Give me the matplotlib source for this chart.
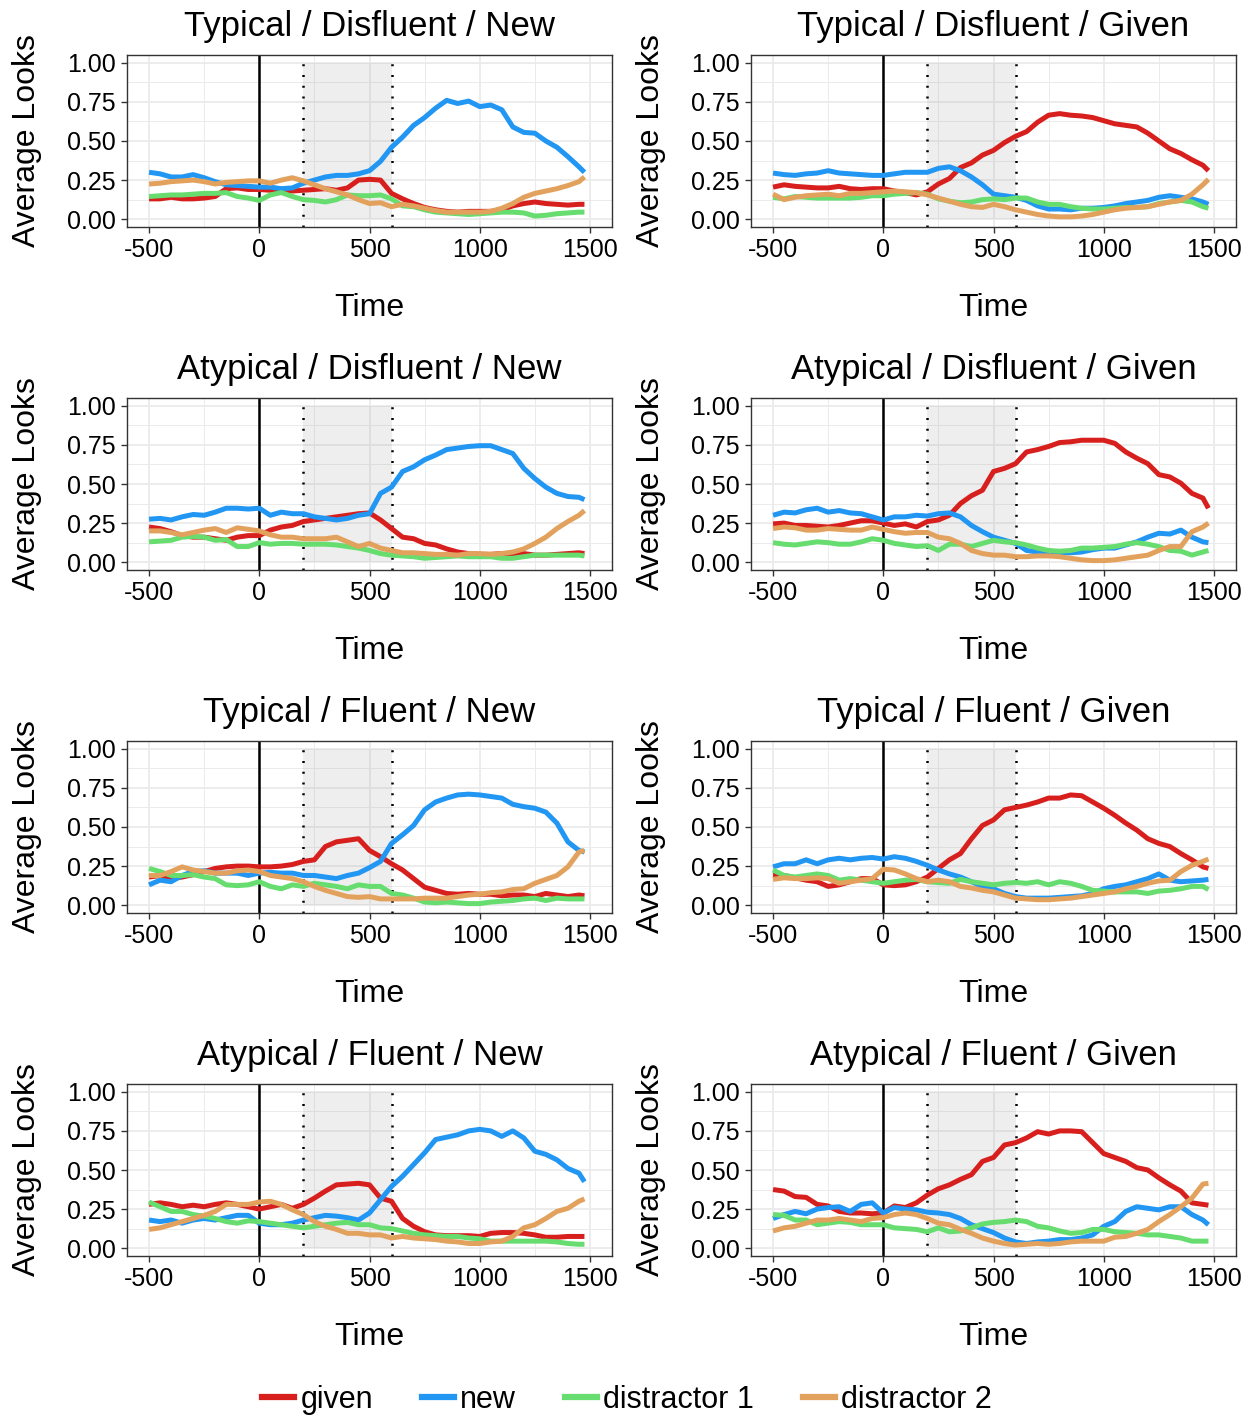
import matplotlib
matplotlib.use("Agg")
import matplotlib.pyplot as plt
from matplotlib.lines import Line2D
import numpy as np

plt.rcParams['font.family'] = ['Liberation Sans', 'DejaVu Sans']

# ---------------- data ----------------
times = list(range(-500, 1451, 50)) + [1475]

# Typical / Disfluent / New
tdn_given = [0.13,0.13,0.14,0.13,0.13,0.135,0.145,0.195,0.20,0.19,0.19,0.185,0.185,0.18,0.185,0.19,0.195,0.185,0.20,0.25,0.255,0.25,0.165,0.13,0.10,0.075,0.06,0.05,0.045,0.05,0.05,0.05,0.06,0.085,0.10,0.11,0.10,0.095,0.09,0.095,0.095]
tdn_new = [0.30,0.29,0.27,0.27,0.285,0.265,0.24,0.22,0.215,0.21,0.205,0.205,0.195,0.20,0.23,0.25,0.27,0.28,0.28,0.29,0.31,0.37,0.46,0.525,0.60,0.65,0.71,0.76,0.74,0.755,0.72,0.73,0.70,0.59,0.555,0.55,0.50,0.46,0.40,0.335,0.30]
tdn_d1 = [0.145,0.15,0.155,0.155,0.16,0.165,0.165,0.17,0.145,0.135,0.12,0.155,0.17,0.145,0.125,0.12,0.11,0.125,0.155,0.15,0.15,0.155,0.13,0.085,0.08,0.06,0.045,0.04,0.035,0.03,0.035,0.04,0.045,0.045,0.04,0.02,0.025,0.035,0.04,0.045,0.045]
tdn_d2 = [0.225,0.23,0.24,0.245,0.25,0.24,0.225,0.235,0.24,0.245,0.245,0.23,0.25,0.265,0.245,0.22,0.195,0.175,0.155,0.125,0.10,0.105,0.08,0.095,0.085,0.07,0.055,0.045,0.045,0.045,0.045,0.05,0.07,0.10,0.14,0.165,0.18,0.195,0.215,0.24,0.27]

# Typical / Disfluent / Given
tdg_given = [0.205,0.22,0.21,0.205,0.20,0.20,0.21,0.195,0.19,0.195,0.195,0.18,0.17,0.155,0.175,0.225,0.26,0.33,0.36,0.41,0.44,0.49,0.53,0.56,0.62,0.665,0.675,0.665,0.66,0.65,0.63,0.61,0.60,0.59,0.55,0.50,0.45,0.42,0.38,0.345,0.31]
tdg_new = [0.295,0.285,0.28,0.29,0.295,0.31,0.295,0.29,0.285,0.28,0.28,0.29,0.30,0.30,0.30,0.325,0.335,0.31,0.27,0.22,0.16,0.15,0.14,0.12,0.085,0.065,0.065,0.06,0.07,0.07,0.075,0.085,0.10,0.11,0.12,0.14,0.15,0.14,0.13,0.11,0.095]
tdg_d1 = [0.14,0.13,0.145,0.14,0.135,0.135,0.135,0.135,0.14,0.15,0.15,0.16,0.165,0.17,0.16,0.13,0.115,0.105,0.11,0.125,0.13,0.125,0.135,0.135,0.11,0.095,0.095,0.08,0.07,0.065,0.065,0.07,0.075,0.075,0.08,0.10,0.11,0.12,0.11,0.08,0.07]
tdg_d2 = [0.16,0.125,0.14,0.15,0.155,0.16,0.15,0.165,0.165,0.17,0.175,0.18,0.175,0.17,0.155,0.135,0.115,0.095,0.08,0.075,0.095,0.08,0.06,0.045,0.03,0.02,0.015,0.015,0.02,0.03,0.045,0.06,0.07,0.075,0.08,0.095,0.11,0.12,0.16,0.22,0.255]

# Atypical / Disfluent / New
adn_given = [0.225,0.215,0.195,0.17,0.16,0.16,0.15,0.14,0.16,0.17,0.17,0.205,0.225,0.235,0.26,0.27,0.28,0.29,0.30,0.31,0.315,0.27,0.215,0.16,0.15,0.12,0.11,0.085,0.065,0.055,0.05,0.05,0.055,0.055,0.055,0.045,0.045,0.05,0.055,0.06,0.055]
adn_new = [0.275,0.28,0.27,0.29,0.305,0.30,0.32,0.345,0.345,0.34,0.345,0.30,0.32,0.31,0.31,0.29,0.28,0.27,0.28,0.30,0.31,0.44,0.48,0.58,0.61,0.655,0.685,0.72,0.73,0.74,0.745,0.745,0.72,0.695,0.60,0.535,0.48,0.44,0.42,0.415,0.40]
adn_d1 = [0.13,0.135,0.14,0.16,0.165,0.16,0.14,0.145,0.10,0.10,0.125,0.115,0.12,0.12,0.115,0.115,0.115,0.11,0.10,0.09,0.075,0.055,0.045,0.04,0.035,0.025,0.03,0.035,0.04,0.035,0.035,0.035,0.025,0.025,0.035,0.045,0.045,0.045,0.045,0.045,0.04]
adn_d2 = [0.20,0.20,0.19,0.175,0.19,0.205,0.215,0.19,0.22,0.21,0.20,0.175,0.16,0.16,0.15,0.15,0.15,0.16,0.13,0.10,0.12,0.09,0.075,0.06,0.06,0.055,0.05,0.05,0.045,0.055,0.055,0.05,0.055,0.065,0.085,0.12,0.16,0.215,0.26,0.30,0.33]

# Atypical / Disfluent / Given
adg_given = [0.245,0.25,0.235,0.235,0.23,0.225,0.235,0.25,0.265,0.265,0.25,0.235,0.245,0.225,0.26,0.27,0.30,0.375,0.425,0.46,0.58,0.60,0.63,0.705,0.72,0.74,0.765,0.77,0.78,0.78,0.78,0.76,0.705,0.665,0.63,0.56,0.545,0.505,0.44,0.41,0.345]
adg_new = [0.30,0.32,0.315,0.335,0.345,0.32,0.33,0.315,0.31,0.29,0.27,0.29,0.29,0.30,0.295,0.31,0.315,0.29,0.235,0.195,0.16,0.14,0.12,0.075,0.065,0.06,0.06,0.06,0.065,0.08,0.09,0.09,0.11,0.13,0.16,0.185,0.18,0.205,0.16,0.13,0.125]
adg_d1 = [0.125,0.115,0.11,0.12,0.13,0.125,0.115,0.115,0.13,0.15,0.14,0.12,0.11,0.10,0.105,0.075,0.115,0.115,0.10,0.12,0.14,0.13,0.125,0.11,0.09,0.075,0.07,0.075,0.09,0.09,0.095,0.10,0.115,0.125,0.115,0.10,0.075,0.07,0.045,0.065,0.075]
adg_d2 = [0.215,0.225,0.22,0.205,0.205,0.215,0.21,0.205,0.205,0.225,0.21,0.195,0.185,0.19,0.19,0.16,0.15,0.12,0.075,0.055,0.045,0.045,0.035,0.035,0.04,0.04,0.035,0.025,0.015,0.01,0.01,0.015,0.025,0.035,0.045,0.075,0.10,0.10,0.195,0.225,0.25]

# Typical / Fluent / New
tfn_given = [0.18,0.19,0.17,0.18,0.195,0.215,0.235,0.245,0.25,0.25,0.245,0.245,0.25,0.26,0.28,0.29,0.375,0.405,0.415,0.425,0.35,0.31,0.265,0.225,0.17,0.115,0.095,0.075,0.07,0.075,0.07,0.07,0.06,0.065,0.065,0.055,0.075,0.065,0.055,0.065,0.06]
tfn_new = [0.13,0.16,0.15,0.19,0.215,0.22,0.205,0.205,0.205,0.19,0.205,0.21,0.205,0.205,0.19,0.19,0.18,0.17,0.19,0.205,0.24,0.28,0.395,0.45,0.51,0.61,0.66,0.685,0.705,0.71,0.705,0.695,0.685,0.645,0.63,0.62,0.595,0.525,0.405,0.35,0.34]
tfn_d1 = [0.235,0.215,0.19,0.19,0.195,0.18,0.17,0.13,0.125,0.13,0.15,0.12,0.105,0.13,0.12,0.14,0.13,0.12,0.105,0.13,0.12,0.12,0.075,0.065,0.045,0.02,0.015,0.02,0.015,0.01,0.01,0.02,0.025,0.03,0.04,0.045,0.03,0.045,0.04,0.04,0.04]
tfn_d2 = [0.19,0.19,0.215,0.245,0.225,0.215,0.205,0.205,0.22,0.225,0.215,0.19,0.18,0.17,0.15,0.12,0.095,0.075,0.055,0.05,0.055,0.04,0.04,0.04,0.04,0.045,0.045,0.045,0.055,0.065,0.07,0.08,0.085,0.10,0.105,0.14,0.165,0.19,0.245,0.34,0.35]

# Typical / Fluent / Given
tfg_given = [0.19,0.19,0.175,0.16,0.15,0.12,0.13,0.15,0.17,0.17,0.13,0.125,0.13,0.15,0.18,0.235,0.29,0.33,0.425,0.51,0.545,0.61,0.625,0.64,0.66,0.685,0.685,0.705,0.70,0.66,0.62,0.575,0.525,0.48,0.425,0.395,0.375,0.33,0.29,0.245,0.235]
tfg_new = [0.245,0.265,0.265,0.29,0.265,0.29,0.30,0.29,0.30,0.305,0.295,0.31,0.30,0.28,0.255,0.225,0.20,0.18,0.15,0.12,0.105,0.075,0.055,0.045,0.045,0.045,0.05,0.055,0.06,0.075,0.105,0.12,0.13,0.15,0.17,0.20,0.16,0.15,0.155,0.16,0.165]
tfg_d1 = [0.225,0.19,0.18,0.19,0.20,0.19,0.16,0.17,0.16,0.15,0.14,0.15,0.16,0.165,0.15,0.145,0.14,0.165,0.15,0.14,0.13,0.14,0.145,0.14,0.15,0.13,0.15,0.14,0.12,0.095,0.09,0.085,0.085,0.085,0.075,0.09,0.095,0.105,0.12,0.12,0.10]
tfg_d2 = [0.165,0.175,0.17,0.17,0.175,0.17,0.14,0.15,0.16,0.17,0.23,0.225,0.20,0.17,0.15,0.16,0.15,0.12,0.11,0.095,0.085,0.065,0.045,0.04,0.035,0.035,0.04,0.045,0.055,0.065,0.075,0.085,0.105,0.12,0.14,0.155,0.16,0.215,0.255,0.28,0.295]

# Atypical / Fluent / New
afn_given = [0.28,0.29,0.28,0.265,0.275,0.265,0.28,0.29,0.28,0.265,0.25,0.265,0.28,0.255,0.28,0.32,0.365,0.405,0.41,0.415,0.405,0.32,0.30,0.19,0.14,0.105,0.085,0.08,0.08,0.08,0.075,0.095,0.10,0.10,0.095,0.085,0.07,0.07,0.075,0.075,0.075]
afn_new = [0.18,0.17,0.18,0.16,0.18,0.19,0.18,0.195,0.21,0.21,0.16,0.15,0.15,0.16,0.18,0.195,0.21,0.205,0.195,0.18,0.225,0.31,0.395,0.46,0.535,0.61,0.695,0.71,0.725,0.75,0.76,0.75,0.715,0.75,0.705,0.62,0.60,0.565,0.51,0.48,0.425]
afn_d1 = [0.295,0.265,0.235,0.235,0.215,0.205,0.19,0.17,0.16,0.175,0.17,0.16,0.15,0.14,0.13,0.14,0.15,0.16,0.165,0.15,0.15,0.13,0.125,0.11,0.095,0.085,0.08,0.075,0.075,0.065,0.06,0.045,0.045,0.045,0.045,0.045,0.045,0.04,0.03,0.025,0.025]
afn_d2 = [0.12,0.13,0.15,0.17,0.19,0.21,0.235,0.28,0.28,0.28,0.295,0.30,0.28,0.245,0.215,0.17,0.14,0.12,0.095,0.095,0.085,0.085,0.065,0.075,0.065,0.06,0.055,0.045,0.04,0.03,0.03,0.04,0.045,0.075,0.13,0.15,0.19,0.235,0.255,0.30,0.315]

# Atypical / Fluent / Given
afg_given = [0.375,0.365,0.33,0.325,0.28,0.27,0.235,0.225,0.225,0.22,0.225,0.27,0.26,0.29,0.34,0.38,0.405,0.44,0.47,0.555,0.58,0.66,0.675,0.705,0.745,0.73,0.75,0.75,0.745,0.675,0.605,0.58,0.555,0.515,0.50,0.45,0.405,0.365,0.29,0.28,0.275]
afg_new = [0.19,0.215,0.235,0.22,0.25,0.26,0.265,0.235,0.28,0.29,0.225,0.26,0.25,0.245,0.23,0.225,0.215,0.19,0.15,0.125,0.10,0.065,0.04,0.03,0.04,0.045,0.055,0.055,0.065,0.085,0.14,0.17,0.235,0.265,0.255,0.245,0.265,0.265,0.215,0.18,0.15]
afg_d1 = [0.215,0.21,0.18,0.18,0.15,0.16,0.17,0.165,0.15,0.15,0.15,0.13,0.125,0.12,0.105,0.13,0.105,0.11,0.13,0.155,0.165,0.17,0.18,0.17,0.14,0.13,0.11,0.095,0.10,0.12,0.12,0.105,0.10,0.095,0.085,0.085,0.075,0.065,0.045,0.045,0.045]
afg_d2 = [0.11,0.13,0.14,0.16,0.18,0.18,0.19,0.18,0.17,0.19,0.195,0.215,0.225,0.215,0.19,0.16,0.15,0.12,0.095,0.065,0.045,0.03,0.02,0.025,0.03,0.025,0.03,0.04,0.045,0.045,0.045,0.07,0.075,0.095,0.12,0.17,0.215,0.265,0.32,0.41,0.415]

panel_titles = ["Typical / Disfluent / New", "Typical / Disfluent / Given",
                "Atypical / Disfluent / New", "Atypical / Disfluent / Given",
                "Typical / Fluent / New", "Typical / Fluent / Given",
                "Atypical / Fluent / New", "Atypical / Fluent / Given"]
panel_series = [
    (tdn_given, tdn_new, tdn_d1, tdn_d2), (tdg_given, tdg_new, tdg_d1, tdg_d2),
    (adn_given, adn_new, adn_d1, adn_d2), (adg_given, adg_new, adg_d1, adg_d2),
    (tfn_given, tfn_new, tfn_d1, tfn_d2), (tfg_given, tfg_new, tfg_d1, tfg_d2),
    (afn_given, afn_new, afn_d1, afn_d2), (afg_given, afg_new, afg_d1, afg_d2),
]
series_names = ["given", "new", "distractor 1", "distractor 2"]
series_colors = ["#D7201E", "#2196F3", "#66DD6E", "#E2A25E"]

x_ticks = [-500, 0, 500, 1000, 1500]
x_minor = [-250, 250, 750, 1250]
y_ticks = [0.0, 0.25, 0.5, 0.75, 1.0]
y_minor = [0.125, 0.375, 0.625, 0.875]
window = (200, 600)

# ---------------- figure ----------------
W, H = 1254, 1420
fig = plt.figure(figsize=(W / 100, H / 100), dpi=100)

col_left = [127, 751]
ax_w = 485
row_top = [55, 398, 741, 1084]
ax_h = 172

for i, title in enumerate(panel_titles):
    r, c = divmod(i, 2)
    ax = fig.add_axes([col_left[c] / W, 1 - (row_top[r] + ax_h) / H, ax_w / W, ax_h / H])
    ax.set_xlim(-600, 1600)
    ax.set_ylim(-0.05, 1.05)
    ax.set_xticks(x_ticks)
    ax.set_xticks(x_minor, minor=True)
    ax.set_yticks(y_ticks)
    ax.set_yticks(y_minor, minor=True)
    ax.set_xticklabels([str(t) for t in x_ticks])
    ax.set_yticklabels(["%.2f" % t for t in y_ticks])
    ax.grid(True, which='major', color='#EBEBEB', linewidth=1.3, zorder=0)
    ax.grid(True, which='minor', color='#EBEBEB', linewidth=0.7, zorder=0)
    ax.set_axisbelow(True)
    ax.tick_params(which='minor', length=0)
    ax.tick_params(which='major', length=4, width=1, color='#333333',
                   labelsize=18, labelcolor='black', pad=4)
    for s in ax.spines.values():
        s.set_color('#333333')
        s.set_linewidth(1.0)
    ax.fill_between([window[0], window[1]], 0, 1, color='grey', alpha=0.13,
                    linewidth=0, zorder=1)
    ax.axvline(0, color='black', linewidth=1.8, zorder=2)
    for wv in window:
        ax.axvline(wv, color='black', linewidth=1.8, linestyle=(0, (0.8, 3.5)), zorder=2)
    for vals, col in zip(panel_series[i], series_colors):
        ax.plot(times, vals, color=col, linewidth=3.6, zorder=3,
                solid_capstyle='butt', solid_joinstyle='round')
    ax.set_title(title, fontsize=25, pad=14)
    ax.set_xlabel("Time", fontsize=23, labelpad=22)
    ax.set_ylabel("Average Looks", fontsize=23, labelpad=18)

handles = [Line2D([0], [0], color=c, linewidth=4.5) for c in series_colors]
fig.legend(handles, series_names, loc='center', ncol=4, frameon=False,
           fontsize=22, handlelength=1.05, handletextpad=0.2, columnspacing=1.6,
           bbox_to_anchor=(0.5, 1 - 1400 / H))

fig.savefig("out.png", dpi=100)
